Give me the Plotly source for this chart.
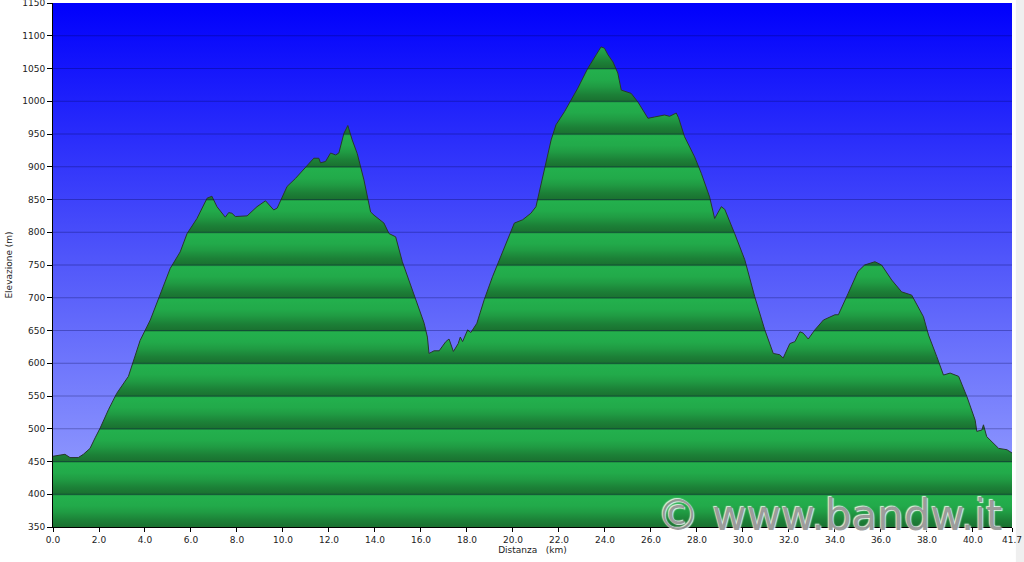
import plotly.graph_objects as go

# ---- data ----
distance_km = [0.0, 0.52, 0.74, 1.1, 1.32, 1.61, 1.83, 2.05, 2.41, 2.77, 3.28, 3.79, 4.23, 4.66,
               5.1, 5.53, 5.83, 6.26, 6.7, 6.91, 7.13, 7.49, 7.64, 7.78, 7.93, 8.44, 8.87, 9.24,
               9.6, 9.75, 10.18, 10.54, 10.98, 11.34, 11.56, 11.63, 11.85, 12.07, 12.29, 12.43,
               12.65, 12.82, 13.01, 13.23, 13.52, 13.81, 13.96, 14.39, 14.61, 14.9, 15.19, 15.48,
               15.85, 16.14, 16.28, 16.35, 16.57, 16.79, 17.08, 17.22, 17.41, 17.62, 17.71, 17.81,
               18.03, 18.17, 18.43, 18.75, 19.11, 19.48, 19.77, 20.06, 20.42, 20.78, 21.0, 21.36,
               21.66, 21.87, 22.24, 22.82, 23.25, 23.62, 23.83, 23.98, 24.13, 24.35, 24.56, 24.71,
               24.92, 25.14, 25.43, 25.65, 25.87, 26.16, 26.59, 26.81, 27.1, 27.2, 27.46, 27.9,
               28.19, 28.55, 28.77, 29.06, 29.21, 29.64, 30.08, 30.51, 30.95, 31.32, 31.6, 31.75,
               32.04, 32.26, 32.48, 32.62, 32.84, 33.13, 33.5, 34.0, 34.15, 34.58, 35.0, 35.29,
               35.74, 36.03, 36.47, 36.9, 37.34, 37.85, 38.07, 38.43, 38.72, 39.01, 39.38, 39.74,
               40.1, 40.17, 40.39, 40.46, 40.6, 40.83, 41.12, 41.48, 41.7]
elevation_m = [458, 461, 456, 456, 461, 470, 486, 501, 529, 554, 580, 635, 666, 704,
               745, 770, 798, 821, 852, 855, 839, 823, 830, 829, 824, 825, 839, 848,
               834, 837, 870, 882, 900, 913, 913, 906, 908, 921, 918, 921,
               951, 963, 941, 920, 880, 831, 826, 814, 798, 793, 755, 727,
               691, 661, 640, 615, 619, 619, 633, 637, 618, 630, 640, 633,
               651, 647, 661, 697, 732, 763, 788, 814, 819, 829, 839, 895,
               941, 964, 984, 1020, 1050, 1071, 1083, 1081, 1071, 1060, 1043, 1017,
               1015, 1012, 999, 987, 974, 976, 979, 977, 982, 975, 946, 915,
               890, 854, 821, 839, 835, 798, 758, 702, 651, 615, 613, 608,
               630, 633, 648, 646, 637, 651, 666, 674, 674, 707, 740, 750,
               755, 750, 727, 709, 704, 671, 643, 610, 582, 585, 580, 549,
               513, 496, 498, 506, 488, 480, 470, 468, 463]

x_tick_values = [0.0, 2.0, 4.0, 6.0, 8.0, 10.0, 12.0, 14.0, 16.0, 18.0, 20.0, 22.0, 24.0, 26.0,
                 28.0, 30.0, 32.0, 34.0, 36.0, 38.0, 40.0, 41.7]
x_tick_labels = ["0.0", "2.0", "4.0", "6.0", "8.0", "10.0", "12.0", "14.0", "16.0", "18.0", "20.0",
                 "22.0", "24.0", "26.0", "28.0", "30.0", "32.0", "34.0", "36.0", "38.0", "40.0", "41.7"]
y_tick_values = list(range(350, 1151, 50))

X_MIN, X_MAX = 0.0, 41.7
Y_MIN, Y_MAX = 350, 1150

FONT = "DejaVu Sans"

# ---- green banded colorscale (one band per 50 m) ----
n_bands = len(y_tick_values) - 1
band_stops = [(0.0, "rgb(26,112,48)"), (0.2, "rgb(28,128,55)"), (0.45, "rgb(32,155,67)"),
              (0.65, "rgb(34,170,74)"), (0.95, "rgb(35,176,77)")]
green_scale = []
for b in range(n_bands):
    for frac, col in band_stops:
        green_scale.append([(b + frac) / n_bands, col])
green_scale.append([1.0, "rgb(35,176,77)"])

fig = go.Figure()

# sky background gradient
fig.add_trace(go.Scatter(
    x=[X_MIN, X_MAX, X_MAX, X_MIN, X_MIN], y=[Y_MIN, Y_MIN, Y_MAX, Y_MAX, Y_MIN],
    mode="none", fill="toself",
    fillgradient=dict(type="vertical", start=Y_MIN, stop=Y_MAX,
                      colorscale=[[0, "rgb(158,168,255)"], [0.5, "rgb(82,88,250)"],
                                  [1, "rgb(0,0,252)"]]),
    hoverinfo="skip", showlegend=False))

# elevation profile
fig.add_trace(go.Scatter(
    x=distance_km, y=elevation_m, mode="lines",
    line=dict(color="rgb(40,55,45)", width=1),
    fill="tozeroy",
    fillgradient=dict(type="vertical", start=Y_MIN, stop=Y_MAX, colorscale=green_scale),
    showlegend=False))

# horizontal grid lines drawn over the fill
shapes = []
for v in y_tick_values[1:-1]:
    shapes.append(dict(type="line", xref="paper", x0=0, x1=1, yref="y", y0=v, y1=v,
                       line=dict(color="rgba(0,0,70,0.3)", width=1), layer="above"))
# light strip on the right edge of the picture
shapes.append(dict(type="rect", xref="paper", x0=1.004, x1=1.02, yref="paper", y0=-0.2, y1=1.02,
                   fillcolor="#efefef", line=dict(width=0), layer="below"))

fig.update_layout(
    width=1024, height=562,
    margin=dict(l=53, r=12, t=3, b=35, autoexpand=False),
    paper_bgcolor="white", plot_bgcolor="white",
    shapes=shapes,
    font=dict(family=FONT, size=9, color="#222"),
    xaxis=dict(range=[X_MIN, X_MAX], tickvals=x_tick_values, ticktext=x_tick_labels,
               showgrid=False, zeroline=False, showline=True, linecolor="black", linewidth=1,
               ticks="outside", ticklen=4, tickcolor="black", automargin=False,
               ticklabeloverflow="allow",
               title=dict(text="Distanza&nbsp;&nbsp;&nbsp;(km)", font=dict(size=9), standoff=2)),
    yaxis=dict(range=[Y_MIN, Y_MAX], tickvals=y_tick_values,
               showgrid=False, zeroline=False, showline=True, linecolor="black", linewidth=1,
               ticks="outside", ticklen=5, tickcolor="black", automargin=False,
               ticklabeloverflow="allow",
               title=dict(text="Elevazione (m)", font=dict(size=9), standoff=8)),
    annotations=[dict(text="© www.bandw.it", xref="paper", yref="paper", x=0.993, y=-0.028,
                      xanchor="right", yanchor="bottom", showarrow=False,
                      font=dict(family=FONT, size=42, color="rgba(140,140,140,0.85)",
                                shadow="1px 1px 1px white, -1px -1px 1px white"))],
)

fig.write_html("out.html", config={"displayModeBar": False},
               post_script="document.body.style.margin='0';")
